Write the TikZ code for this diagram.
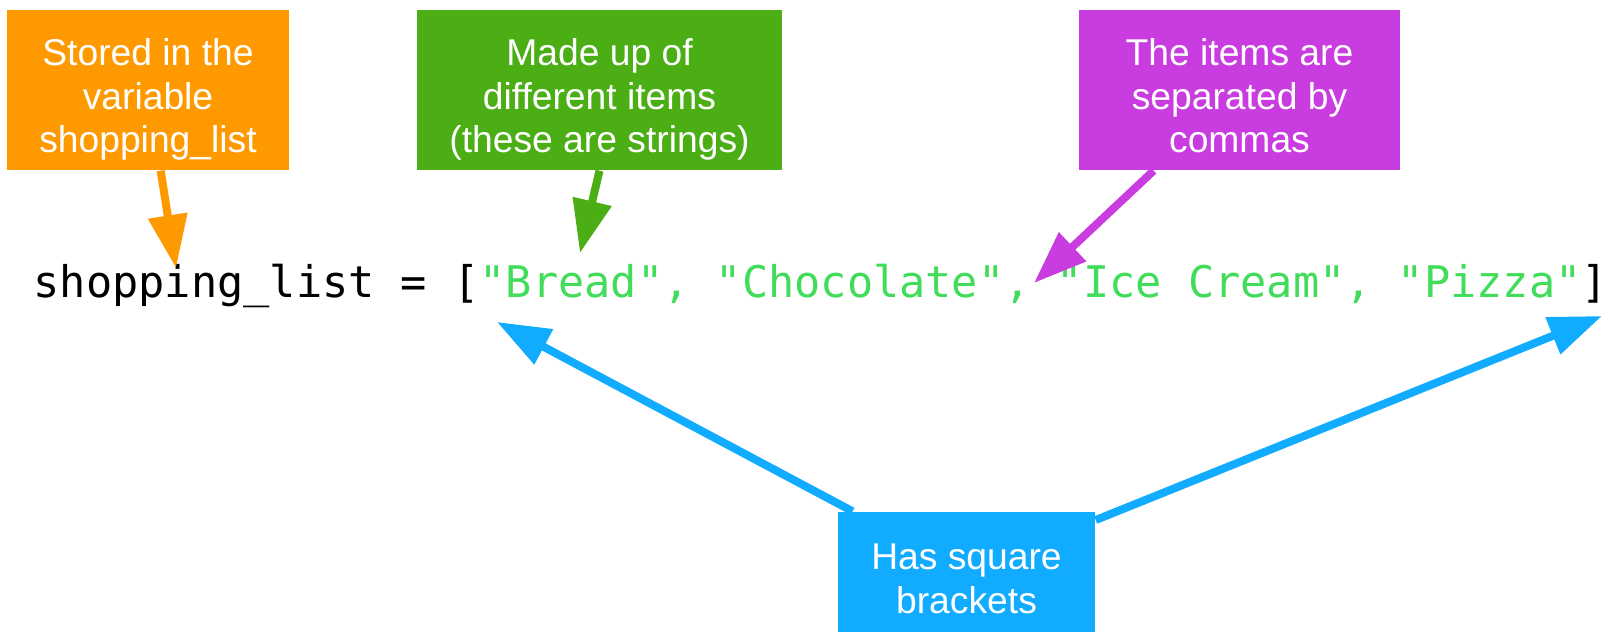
\documentclass[tikz,border=0pt]{standalone}
\usepackage{fontspec}
\setmainfont{Liberation Sans}
\setmonofont{DejaVu Sans Mono}
\usetikzlibrary{arrows.meta}
\definecolor{storeorange}{RGB}{255,153,0}
\definecolor{itemgreen}{RGB}{74,174,20}
\definecolor{commapurple}{RGB}{201,60,224}
\definecolor{bracketblue}{RGB}{17,172,255}
\definecolor{stringgreen}{RGB}{64,220,90}
\newcommand{\notetop}{\rule{0pt}{14pt}}
\newcommand{\notebottom}{\rule[-3pt]{0pt}{3pt}}
\tikzset{
	note/.style={fill=#1, text=white, align=center, inner sep=0pt, font=\fontsize{10.6}{12.4}\selectfont},
	pointer/.style={-{Triangle[length=5.3mm,width=3.8mm]}, line width=.8mm, #1},
}

\begin{document}
\begin{tikzpicture}[x=.1mm, y=-.1mm]
			\useasboundingbox (0,0) rectangle (1614,632);
			\node[note=storeorange, minimum width=28.2mm, minimum height=16mm] (stored) at (148,90)
			{
				\notetop Stored in the\\variable\\shopping\_list\notebottom
			};
			\node[note=itemgreen, minimum width=36.5mm, minimum height=16mm] (items) at (599.5,90)
			{
				\notetop Made up of\\different items\\(these are strings)\notebottom
			};
			\node[note=commapurple, minimum width=32.1mm, minimum height=16mm] (commas) at (1239.5,90)
			{
				\notetop The items are\\separated by\\commas\notebottom
			};
			\node[note=bracketblue, minimum width=25.7mm, minimum height=12mm] (brackets) at (966.5,572)
			{
				\notetop Has square\\brackets\notebottom
			};
			\node[anchor=base west, inner sep=0pt, font=\fontsize{12.4}{14}\ttfamily] (code) at (33,298)
			{shopping\_list = [\textcolor{stringgreen}{"Bread", "Chocolate", "Ice Cream", "Pizza"}]};
			\coordinate (storetip) at (176,268);
			\coordinate (itemtip) at (580,253);
			\coordinate (commatip) at (1034,283);
			\coordinate (opentip) at (497,322);
			\coordinate (closetip) at (1602,316);
			\draw[pointer=storeorange] (stored) -- (storetip);
			\draw[pointer=itemgreen] (items.south) -- (itemtip);
			\draw[pointer=commapurple] (commas) -- (commatip);
			\draw[pointer=bracketblue] (brackets) -- (opentip);
			\draw[pointer=bracketblue] (brackets) -- (closetip);
		\end{tikzpicture}
\end{document}
